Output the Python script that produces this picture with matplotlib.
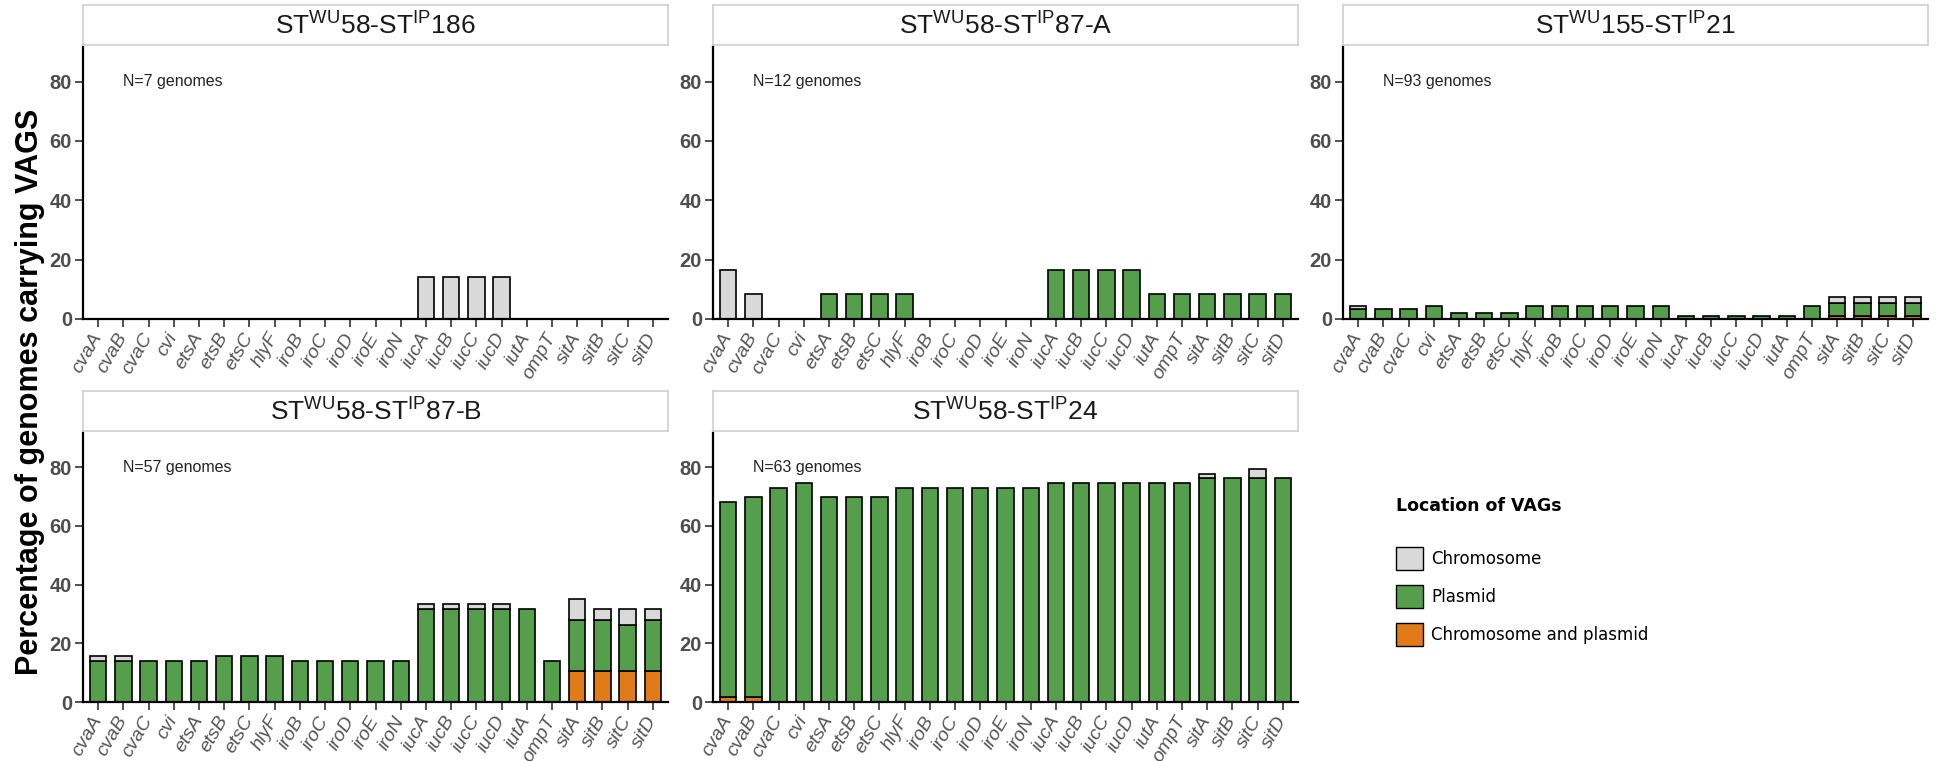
import numpy as np
import matplotlib
matplotlib.use("Agg")
import matplotlib.pyplot as plt
from matplotlib.patches import Patch

genes = ["cvaA", "cvaB", "cvaC", "cvi", "etsA", "etsB", "etsC", "hlyF",
         "iroB", "iroC", "iroD", "iroE", "iroN", "iucA", "iucB", "iucC",
         "iucD", "iutA", "ompT", "sitA", "sitB", "sitC", "sitD"]

titles = [r"ST$^{\mathregular{WU}}$58-ST$^{\mathregular{IP}}$186",
          r"ST$^{\mathregular{WU}}$58-ST$^{\mathregular{IP}}$87-A",
          r"ST$^{\mathregular{WU}}$155-ST$^{\mathregular{IP}}$21",
          r"ST$^{\mathregular{WU}}$58-ST$^{\mathregular{IP}}$87-B",
          r"ST$^{\mathregular{WU}}$58-ST$^{\mathregular{IP}}$24"]
n_genomes = [7, 12, 93, 57, 63]

# genome counts per gene: chromosome / plasmid / chromosome and plasmid
chrom = [
    [0, 0, 0, 0, 0, 0, 0, 0, 0, 0, 0, 0, 0, 1, 1, 1, 1, 0, 0, 0, 0, 0, 0],
    [2, 1, 0, 0, 0, 0, 0, 0, 0, 0, 0, 0, 0, 0, 0, 0, 0, 0, 0, 0, 0, 0, 0],
    [1, 0, 0, 0, 0, 0, 0, 0, 0, 0, 0, 0, 0, 0, 0, 0, 0, 0, 0, 2, 2, 2, 2],
    [1, 1, 0, 0, 0, 0, 0, 0, 0, 0, 0, 0, 0, 1, 1, 1, 1, 0, 0, 4, 2, 3, 2],
    [0, 0, 0, 0, 0, 0, 0, 0, 0, 0, 0, 0, 0, 0, 0, 0, 0, 0, 0, 1, 0, 2, 0],
]
plasmid = [
    [0, 0, 0, 0, 0, 0, 0, 0, 0, 0, 0, 0, 0, 0, 0, 0, 0, 0, 0, 0, 0, 0, 0],
    [0, 0, 0, 0, 1, 1, 1, 1, 0, 0, 0, 0, 0, 2, 2, 2, 2, 1, 1, 1, 1, 1, 1],
    [3, 3, 3, 4, 2, 2, 2, 4, 4, 4, 4, 4, 4, 1, 1, 1, 1, 1, 4, 4, 4, 4, 4],
    [8, 8, 8, 8, 8, 9, 9, 9, 8, 8, 8, 8, 8, 18, 18, 18, 18, 18, 8, 10, 10, 9, 10],
    [42, 43, 46, 47, 44, 44, 44, 46, 46, 46, 46, 46, 46, 47, 47, 47, 47, 47, 47, 48, 48, 48, 48],
]
both = [
    [0] * 23,
    [0] * 23,
    [0, 0, 0, 0, 0, 0, 0, 0, 0, 0, 0, 0, 0, 0, 0, 0, 0, 0, 0, 1, 1, 1, 1],
    [0, 0, 0, 0, 0, 0, 0, 0, 0, 0, 0, 0, 0, 0, 0, 0, 0, 0, 0, 6, 6, 6, 6],
    [1, 1, 0, 0, 0, 0, 0, 0, 0, 0, 0, 0, 0, 0, 0, 0, 0, 0, 0, 0, 0, 0, 0],
]

col_chrom = "#D9D9D9"
col_plasmid = "#559F4C"
col_both = "#E07B18"
sans = ["Liberation Sans", "DejaVu Sans"]

W, H = 1939, 761
fig = plt.figure(figsize=(W / 100, H / 100), dpi=100)


def px_axes(x0, y0, x1, y1):
    return fig.add_axes([x0 / W, 1 - y1 / H, (x1 - x0) / W, (y1 - y0) / H])


cols = [83, 713, 1343]
rows = [(5, 45, 46, 319), (391, 431, 432, 702)]
width = 585
slots = [(0, 0), (0, 1), (0, 2), (1, 0), (1, 1)]

x = np.arange(len(genes))
for i, (r, c) in enumerate(slots):
    s0, s1, a0, a1 = rows[r]
    x0 = cols[c]
    ax = px_axes(x0, a0, x0 + width, a1)
    strip = px_axes(x0, s0, x0 + width, s1)

    n = n_genomes[i]
    b = 100 * np.array(both[i]) / n
    p = 100 * np.array(plasmid[i]) / n
    ch = 100 * np.array(chrom[i]) / n
    kw = dict(width=0.65, edgecolor="black", linewidth=1.2)
    ax.bar(x[b > 0], b[b > 0], color=col_both, **kw)
    ax.bar(x[p > 0], p[p > 0], bottom=b[p > 0], color=col_plasmid, **kw)
    ax.bar(x[ch > 0], ch[ch > 0], bottom=(b + p)[ch > 0], color=col_chrom, **kw)

    ax.set_xlim(-0.6, len(genes) - 0.4)
    ax.set_ylim(0, 92)
    ax.set_yticks([0, 20, 40, 60, 80])
    ax.set_xticks(x)
    ax.set_xticklabels(genes, rotation=60, ha="right", va="center",
                       rotation_mode="anchor", style="italic", fontsize=14,
                       color="#555555", family=sans)
    for lab in ax.get_yticklabels():
        lab.set_fontweight("bold")
        lab.set_fontsize(14.5)
        lab.set_family(sans)
        lab.set_color("#4D4D4D")
    ax.tick_params(axis="both", direction="out", length=6, width=1.2,
                   color="#333333", pad=2)
    ax.tick_params(axis="x", pad=5)
    for side in ["top", "right"]:
        ax.spines[side].set_visible(False)
    for side in ["left", "bottom"]:
        ax.spines[side].set_linewidth(1.6)
    ax.text(1.0, 80, f"N={n} genomes", ha="left", va="center", fontsize=11.5,
            family=sans, color="#222222")

    strip.set_xticks([])
    strip.set_yticks([])
    for sp in strip.spines.values():
        sp.set_color("#D0D0D0")
        sp.set_linewidth(1.2)
    strip.text(0.5, 0.5, titles[i], transform=strip.transAxes, ha="center",
               va="center", fontsize=19, family=sans, color="#1A1A1A")

fig.text(30 / W, 0.485, "Percentage of genomes carrying VAGS", rotation=90,
         ha="center", va="center", fontsize=22, fontweight="bold",
         family=sans)

# legend title placed on its own so the gap above the keys can be set
fig.text(1396 / W, 1 - 506 / H, "Location of VAGs", ha="left", va="center",
         fontsize=12.5, fontweight="bold")
handles = [Patch(facecolor=col_chrom, edgecolor="black", linewidth=1),
           Patch(facecolor=col_plasmid, edgecolor="black", linewidth=1),
           Patch(facecolor=col_both, edgecolor="black", linewidth=1)]
fig.legend(handles, ["Chromosome", "Plasmid", "Chromosome and plasmid"],
           loc="upper left", bbox_to_anchor=(1381 / W, 1 - 532 / H),
           frameon=False, fontsize=12, handlelength=1.6, handleheight=1.7,
           labelspacing=0.93, handletextpad=0.5)

fig.savefig("out.png", dpi=100)
